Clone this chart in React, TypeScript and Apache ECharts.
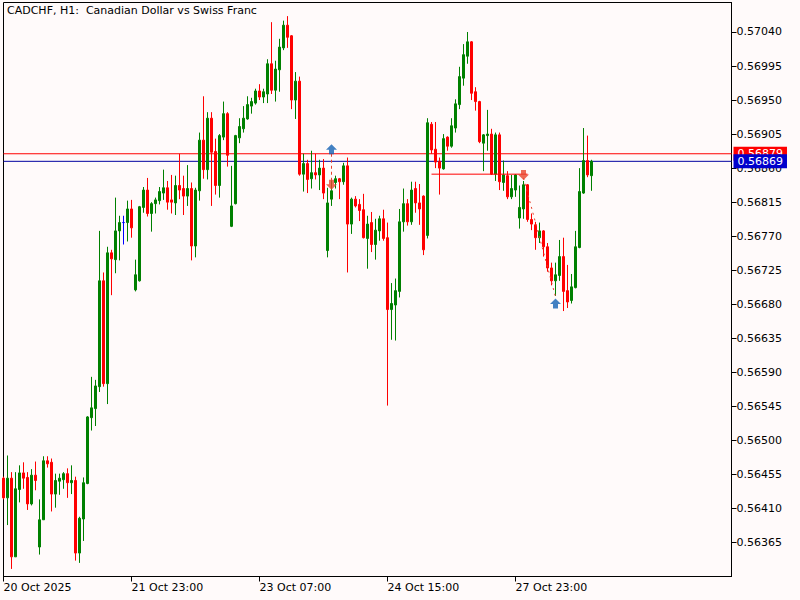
import React, { useEffect, useRef } from "react";
import * as echarts from "echarts";

// ---- Data (CADCHF H1) ----
const opens = [
  0.56450, 0.56424, 0.56450, 0.56346, 0.56435, 0.56457, 0.56451, 0.56416, 0.56454, 0.56359,
  0.56395, 0.56473, 0.56471, 0.56429, 0.56446, 0.56448, 0.56456, 0.56444, 0.56447, 0.56351,
  0.56396, 0.56443, 0.56530, 0.56542, 0.56571, 0.56711, 0.56575, 0.56748, 0.56739, 0.56777,
  0.56788, 0.56788, 0.56806, 0.56699, 0.56711, 0.56808, 0.56831, 0.56800, 0.56813, 0.56817,
  0.56827, 0.56834, 0.56818, 0.56814, 0.56837, 0.56833, 0.56823, 0.56833, 0.56757, 0.56830,
  0.56897, 0.56858, 0.56926, 0.56882, 0.56837, 0.56901, 0.56932, 0.56783, 0.56813, 0.56900,
  0.56912, 0.56925, 0.56942, 0.56946, 0.56962, 0.56954, 0.56958, 0.56998, 0.56963, 0.56990,
  0.57019, 0.57049, 0.57035, 0.56950, 0.56975, 0.56852, 0.56866, 0.56846, 0.56854, 0.56851,
  0.56860, 0.56751, 0.56819, 0.56841, 0.56846, 0.56842, 0.56863, 0.56786, 0.56819, 0.56812,
  0.56805, 0.56767, 0.56788, 0.56759, 0.56777, 0.56793, 0.56768, 0.56673, 0.56679, 0.56697,
  0.56789, 0.56813, 0.56789, 0.56833, 0.56814, 0.56823, 0.56771, 0.56918, 0.56885, 0.56869,
  0.56859, 0.56901, 0.56889, 0.56913, 0.56944, 0.56979, 0.57008, 0.57027, 0.56961, 0.56948,
  0.56893, 0.56903, 0.56905, 0.56852, 0.56904, 0.56841, 0.56850, 0.56822, 0.56831, 0.56794,
  0.56806, 0.56838, 0.56792, 0.56785, 0.56768, 0.56777, 0.56756, 0.56728, 0.56711, 0.56718,
  0.56743, 0.56698, 0.56685, 0.56702, 0.56755, 0.56827, 0.56870, 0.56850,
];
const closes = [
  0.56424, 0.56450, 0.56346, 0.56436, 0.56457, 0.56450, 0.56416, 0.56454, 0.56447, 0.56395,
  0.56473, 0.56469, 0.56429, 0.56447, 0.56450, 0.56456, 0.56444, 0.56447, 0.56351, 0.56397,
  0.56444, 0.56531, 0.56543, 0.56572, 0.56711, 0.56575, 0.56748, 0.56740, 0.56777, 0.56788,
  0.56788, 0.56806, 0.56781, 0.56719, 0.56809, 0.56831, 0.56800, 0.56813, 0.56818, 0.56829,
  0.56834, 0.56815, 0.56815, 0.56837, 0.56831, 0.56823, 0.56833, 0.56757, 0.56831, 0.56897,
  0.56858, 0.56926, 0.56881, 0.56837, 0.56903, 0.56932, 0.56877, 0.56810, 0.56903, 0.56915,
  0.56926, 0.56944, 0.56948, 0.56962, 0.56954, 0.56961, 0.56998, 0.56963, 0.56991, 0.57020,
  0.57049, 0.57033, 0.56950, 0.56975, 0.56852, 0.56866, 0.56845, 0.56854, 0.56851, 0.56860,
  0.56827, 0.56814, 0.56830, 0.56846, 0.56842, 0.56863, 0.56786, 0.56819, 0.56810, 0.56804,
  0.56768, 0.56786, 0.56759, 0.56778, 0.56793, 0.56767, 0.56673, 0.56681, 0.56698, 0.56789,
  0.56813, 0.56789, 0.56831, 0.56814, 0.56806, 0.56752, 0.56920, 0.56884, 0.56868, 0.56860,
  0.56899, 0.56889, 0.56916, 0.56945, 0.56981, 0.57010, 0.57027, 0.56959, 0.56948, 0.56895,
  0.56904, 0.56905, 0.56852, 0.56904, 0.56842, 0.56851, 0.56822, 0.56833, 0.56851, 0.56808,
  0.56838, 0.56792, 0.56786, 0.56768, 0.56777, 0.56756, 0.56728, 0.56711, 0.56719, 0.56743,
  0.56697, 0.56683, 0.56703, 0.56756, 0.56829, 0.56870, 0.56851, 0.56869,
];
const highs = [
  0.56452, 0.56480, 0.56458, 0.56458, 0.56467, 0.56471, 0.56458, 0.56462, 0.56472, 0.56422,
  0.56479, 0.56479, 0.56476, 0.56456, 0.56456, 0.56458, 0.56463, 0.56467, 0.56452, 0.56399,
  0.56451, 0.56532, 0.56584, 0.56580, 0.56777, 0.56722, 0.56756, 0.56752, 0.56821, 0.56797,
  0.56797, 0.56817, 0.56818, 0.56739, 0.56810, 0.56835, 0.56847, 0.56815, 0.56821, 0.56835,
  0.56858, 0.56843, 0.56851, 0.56850, 0.56879, 0.56850, 0.56864, 0.56841, 0.56834, 0.56907,
  0.56955, 0.56934, 0.56934, 0.56899, 0.56905, 0.56948, 0.56934, 0.56863, 0.56904, 0.56926,
  0.56942, 0.56955, 0.56953, 0.56965, 0.56971, 0.56965, 0.57004, 0.57053, 0.57002, 0.57031,
  0.57055, 0.57061, 0.57036, 0.56987, 0.56981, 0.56879, 0.56871, 0.56883, 0.56879, 0.56871,
  0.56872, 0.56834, 0.56845, 0.56850, 0.56847, 0.56867, 0.56874, 0.56821, 0.56823, 0.56819,
  0.56826, 0.56797, 0.56802, 0.56793, 0.56797, 0.56805, 0.56788, 0.56708, 0.56714, 0.56806,
  0.56833, 0.56819, 0.56842, 0.56842, 0.56839, 0.56824, 0.56926, 0.56921, 0.56921, 0.56874,
  0.56905, 0.56902, 0.56926, 0.56951, 0.56994, 0.57024, 0.57040, 0.57028, 0.56967, 0.56949,
  0.56905, 0.56937, 0.56912, 0.56907, 0.56907, 0.56870, 0.56856, 0.56851, 0.56852, 0.56837,
  0.56843, 0.56839, 0.56800, 0.56789, 0.56788, 0.56778, 0.56761, 0.56735, 0.56735, 0.56765,
  0.56768, 0.56732, 0.56720, 0.56777, 0.56860, 0.56913, 0.56903, 0.56871,
];
const lows = [
  0.56422, 0.56388, 0.56330, 0.56346, 0.56418, 0.56436, 0.56408, 0.56414, 0.56434, 0.56349,
  0.56395, 0.56464, 0.56406, 0.56411, 0.56428, 0.56436, 0.56424, 0.56429, 0.56341, 0.56338,
  0.56367, 0.56442, 0.56513, 0.56519, 0.56564, 0.56571, 0.56548, 0.56692, 0.56721, 0.56738,
  0.56759, 0.56763, 0.56768, 0.56697, 0.56710, 0.56801, 0.56796, 0.56776, 0.56800, 0.56812,
  0.56818, 0.56805, 0.56800, 0.56798, 0.56819, 0.56798, 0.56810, 0.56738, 0.56742, 0.56817,
  0.56846, 0.56845, 0.56810, 0.56825, 0.56821, 0.56897, 0.56862, 0.56782, 0.56812, 0.56893,
  0.56907, 0.56924, 0.56932, 0.56944, 0.56950, 0.56946, 0.56946, 0.56958, 0.56948, 0.56961,
  0.57016, 0.57019, 0.56938, 0.56925, 0.56850, 0.56829, 0.56827, 0.56833, 0.56845, 0.56831,
  0.56819, 0.56742, 0.56810, 0.56833, 0.56819, 0.56838, 0.56722, 0.56773, 0.56808, 0.56790,
  0.56767, 0.56727, 0.56749, 0.56739, 0.56764, 0.56764, 0.56546, 0.56633, 0.56632, 0.56689,
  0.56776, 0.56784, 0.56785, 0.56801, 0.56785, 0.56745, 0.56767, 0.56879, 0.56860, 0.56825,
  0.56858, 0.56883, 0.56887, 0.56907, 0.56938, 0.56969, 0.56998, 0.56950, 0.56936, 0.56893,
  0.56856, 0.56883, 0.56851, 0.56843, 0.56831, 0.56830, 0.56819, 0.56819, 0.56822, 0.56780,
  0.56793, 0.56789, 0.56778, 0.56752, 0.56761, 0.56743, 0.56723, 0.56705, 0.56691, 0.56711,
  0.56671, 0.56675, 0.56681, 0.56701, 0.56754, 0.56826, 0.56848, 0.56830,
];

// x-axis tick labels (every 32 bars)
const tickIndices = [0, 32, 64, 96, 128];
const tickLabels = ["20 Oct 2025", "21 Oct 23:00", "23 Oct 07:00", "24 Oct 15:00", "27 Oct 23:00"];

// price axis ticks
const yTickStep = 0.00045;
const yMin = 0.5632;
const yMax = 0.57079;

// current prices
const askPrice = 0.56879;
const bidPrice = 0.56869;

// trades: [barIndex, price]
const buyArrows = [[82, 0.56885], [138, 0.56681]];
const sellArrows = [[82, 0.56838], [130, 0.56851]];
const trade1Line = [[82, 0.56879], [82, 0.56842]];
const trade2Line = [[130, 0.56847], [138, 0.5669]];
const orderLine = [[107, 0.56852], [131, 0.56852]];

const TOTAL_SLOTS = 183; // bars + empty right shift area

function buildTimes(): string[] {
  const out: string[] = [];
  let t = Date.UTC(2025, 9, 20, 15, 0, 0);
  while (out.length < TOTAL_SLOTS) {
    const d = new Date(t);
    const dow = d.getUTCDay();
    if (dow !== 0 && dow !== 6) {
      out.push(d.toISOString().slice(0, 16).replace("T", " "));
    }
    t += 3600 * 1000;
  }
  return out;
}

const UP_ARROW = "path://M5.5,0 L11,5.5 L8,5.5 L8,10 L3,10 L3,5.5 L0,5.5 Z";
const DOWN_ARROW = "path://M3,0 L8,0 L8,4.5 L11,4.5 L5.5,10 L0,4.5 L3,4.5 Z";

export default function App() {
  const ref = useRef<HTMLDivElement>(null);

  useEffect(() => {
    if (!ref.current) return;
    const chart = echarts.init(ref.current, undefined, { renderer: "svg" });
    const times = buildTimes();
    const lastIdx = times.length - 1;
    const tickMap: Record<number, string> = {};
    tickIndices.forEach((idx, k) => (tickMap[idx] = tickLabels[k]));
    const isTick = (i: number) => Object.prototype.hasOwnProperty.call(tickMap, i);
    const candles = opens.map((o, i) => [o, closes[i], lows[i], highs[i]]);
    const font = "DejaVu Sans";

    const priceLine = (name: string, price: number, lineColor: string, boxColor: string, z: number) => ({
      type: "line",
      name,
      data: [[0, price], [lastIdx, price]],
      symbol: "none",
      silent: true,
      z,
      lineStyle: { color: lineColor, width: 1 },
      endLabel: {
        show: true,
        formatter: price.toFixed(5),
        distance: 2,
        color: "#FFFFFF",
        backgroundColor: boxColor,
        padding: [1, 4, 1, 4],
        lineHeight: 12,
        fontSize: 11,
        fontFamily: font,
      },
    });

    const option: any = {
      animation: false,
      backgroundColor: "#FFFAFA",
      textStyle: { fontFamily: font },
      title: {
        text: "CADCHF, H1:  Canadian Dollar vs Swiss Franc",
        left: 7,
        top: 5,
        padding: 0,
        textStyle: { fontSize: 11, fontWeight: "normal", color: "#000", fontFamily: font },
      },
      grid: {
        left: 3.5,
        top: 2.5,
        width: 728,
        height: 574,
        show: true,
        borderColor: "#000",
        borderWidth: 1,
        backgroundColor: "transparent",
      },
      xAxis: {
        type: "category",
        data: times,
        boundaryGap: false,
        axisLine: { show: true, lineStyle: { color: "#000", width: 1 } },
        axisTick: { show: true, length: 5, interval: (i: number) => isTick(i), lineStyle: { color: "#000" } },
        axisLabel: {
          interval: (i: number) => isTick(i),
          formatter: (_v: string, i: number) => tickMap[i] ?? "",
          align: "left",
          margin: 5,
          color: "#000",
          fontSize: 11,
          fontFamily: font,
        },
        splitLine: { show: false },
      },
      yAxis: {
        type: "value",
        position: "right",
        min: yMin,
        max: yMax,
        interval: yTickStep,
        scale: true,
        axisLine: { show: true, lineStyle: { color: "#000", width: 1 } },
        axisTick: { show: true, length: 5, lineStyle: { color: "#000" } },
        axisLabel: {
          formatter: (v: number) => v.toFixed(5),
          margin: 5,
          color: "#000",
          fontSize: 11,
          fontFamily: font,
          showMinLabel: false,
          showMaxLabel: false,
        },
        splitLine: { show: false },
      },
      series: [
        priceLine("ask", askPrice, "#FF0000", "#FF0000", 1),
        priceLine("bid", bidPrice, "#0000A0", "#0000CD", 1),
        {
          type: "candlestick",
          name: "CADCHF",
          data: candles,
          barWidth: 2,
          z: 2,
          itemStyle: {
            color: "#008000",
            color0: "#FF0000",
            borderColor: "#008000",
            borderColor0: "#FF0000",
            borderColorDoji: "#0000FF",
            borderWidth: 1,
          },
        },
        {
          type: "line",
          name: "order",
          data: orderLine,
          symbol: "none",
          lineStyle: { color: "#FF0000", width: 1 },
          z: 3,
        },
        {
          type: "line",
          name: "trade1",
          data: trade1Line,
          symbol: "none",
          lineStyle: { color: "#E8402A", width: 1, type: [3, 3] },
          z: 3,
        },
        {
          type: "line",
          name: "trade2",
          data: trade2Line,
          symbol: "none",
          lineStyle: { color: "#E8402A", width: 1, type: [2, 4] },
          z: 3,
        },
        {
          type: "scatter",
          name: "buy",
          data: buyArrows,
          symbol: UP_ARROW,
          symbolSize: [11, 10],
          itemStyle: { color: "#1462B4" },
          z: 4,
        },
        {
          type: "scatter",
          name: "sell",
          data: sellArrows,
          symbol: DOWN_ARROW,
          symbolSize: [11, 10],
          itemStyle: { color: "#E8452C" },
          z: 4,
        },
      ],
    };

    chart.setOption(option);
    return () => chart.dispose();
  }, []);

  return (
    <div
      ref={ref}
      style={{ position: "fixed", left: 0, top: 0, width: 800, height: 600 }}
    />
  );
}
